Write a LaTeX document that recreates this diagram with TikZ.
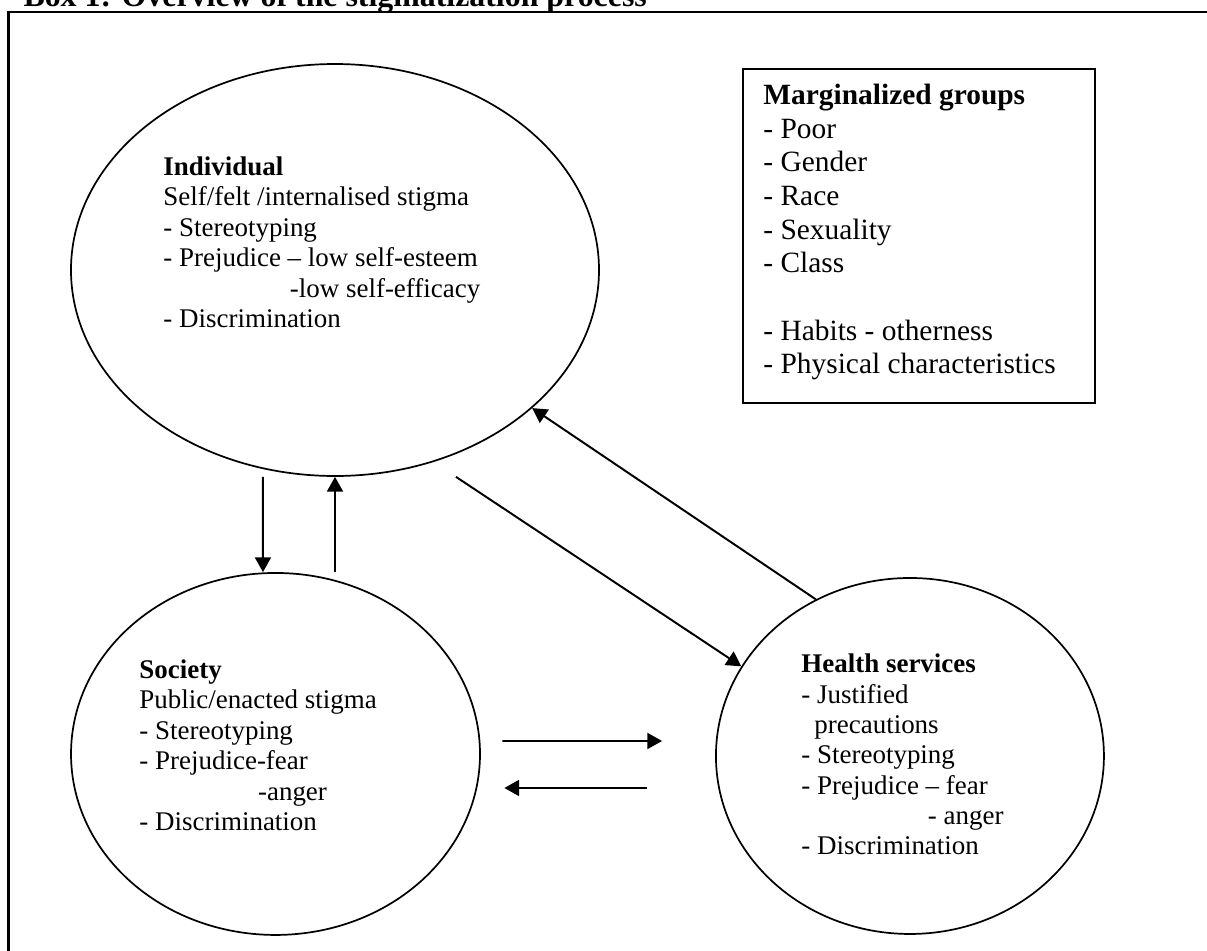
\documentclass[tikz,border=0pt]{standalone}
\usepackage{fontspec}
\setmainfont{Liberation Serif}
\usetikzlibrary{positioning,arrows.meta,shapes.geometric}

\begin{document}
\begin{tikzpicture}[
      sphere/.style={draw,ellipse,line width=0.7pt,inner sep=0pt},
      body/.style={align=left,anchor=base west,inner sep=0pt,font=\fontsize{11}{12.4}\selectfont},
      list/.style={align=left,anchor=base west,inner sep=0pt,font=\fontsize{12}{13.75}\selectfont},
      arrow/.style={-{Triangle[length=6pt,width=6.5pt]},line width=0.8pt}
    ]
    \useasboundingbox (0,0) rectangle (17.309,-13.637);
    \draw[line width=1pt] (0.122,-13.8) |- (17.5,-0.172);
    \node[anchor=base west,inner sep=0pt,font=\fontsize{13}{15}\selectfont\bfseries] (title) at (0.330,-0.100) {Box 1: Overview of the stigmatization process};
    \node[sphere,minimum width=7.572cm,minimum height=5.908cm] (ind) at (4.804,-3.872) {};
    \node[sphere,minimum width=5.865cm,minimum height=5.191cm] (soc) at (3.951,-10.812) {};
    \node[sphere,minimum width=5.564cm,minimum height=5.105cm] (hs) at (13.049,-10.841) {};
    \node[body] (indtext) at (2.337,-4.696) {\textbf{Individual}\\ Self/felt /internalised stigma\\ - Stereotyping\\ - Prejudice -- low self-esteem\\ \hspace*{51.6pt}-low self-efficacy\\ - Discrimination};
    \node[body] (soctext) at (1.993,-11.909) {\textbf{Society}\\ Public/enacted stigma\\ - Stereotyping\\ - Prejudice-fear\\ \hspace*{48.4pt}-anger\\ - Discrimination};
    \node[body] (hstext) at (11.486,-12.261) {\textbf{Health services}\\ - Justified\\ \hspace*{5.3pt}precautions\\ - Stereotyping\\ - Prejudice -- fear\\ \hspace*{51.6pt}- anger\\ - Discrimination};
    \node[list] (grp) at (10.941,-5.363) {\textbf{Marginalized groups}\\ - Poor\\ - Gender\\ - Race\\ - Sexuality\\ - Class\\[13.75pt] - Habits - otherness\\ - Physical characteristics};
    \draw[line width=0.8pt] (10.655,-0.989) rectangle (15.702,-5.779);
    \draw[arrow] ([xshift=-1.033cm]ind.south) -- ([xshift=-0.180cm]soc.north);
    \draw[arrow] ([xshift=0.853cm]soc.north) -- (ind.south);
    \draw[arrow] ([xshift=1.735cm]ind.south) -- (hs.152);
    \draw[arrow] (hs.121) -- (ind.325);
    \draw[arrow] ([xshift=0.308cm,yshift=0.186cm]soc.east) -- ([xshift=-0.760cm,yshift=0.215cm]hs.west);
    \draw[arrow] ([xshift=-0.975cm,yshift=-0.459cm]hs.west) -- ([xshift=0.337cm,yshift=-0.488cm]soc.east);
  \end{tikzpicture}
\end{document}
